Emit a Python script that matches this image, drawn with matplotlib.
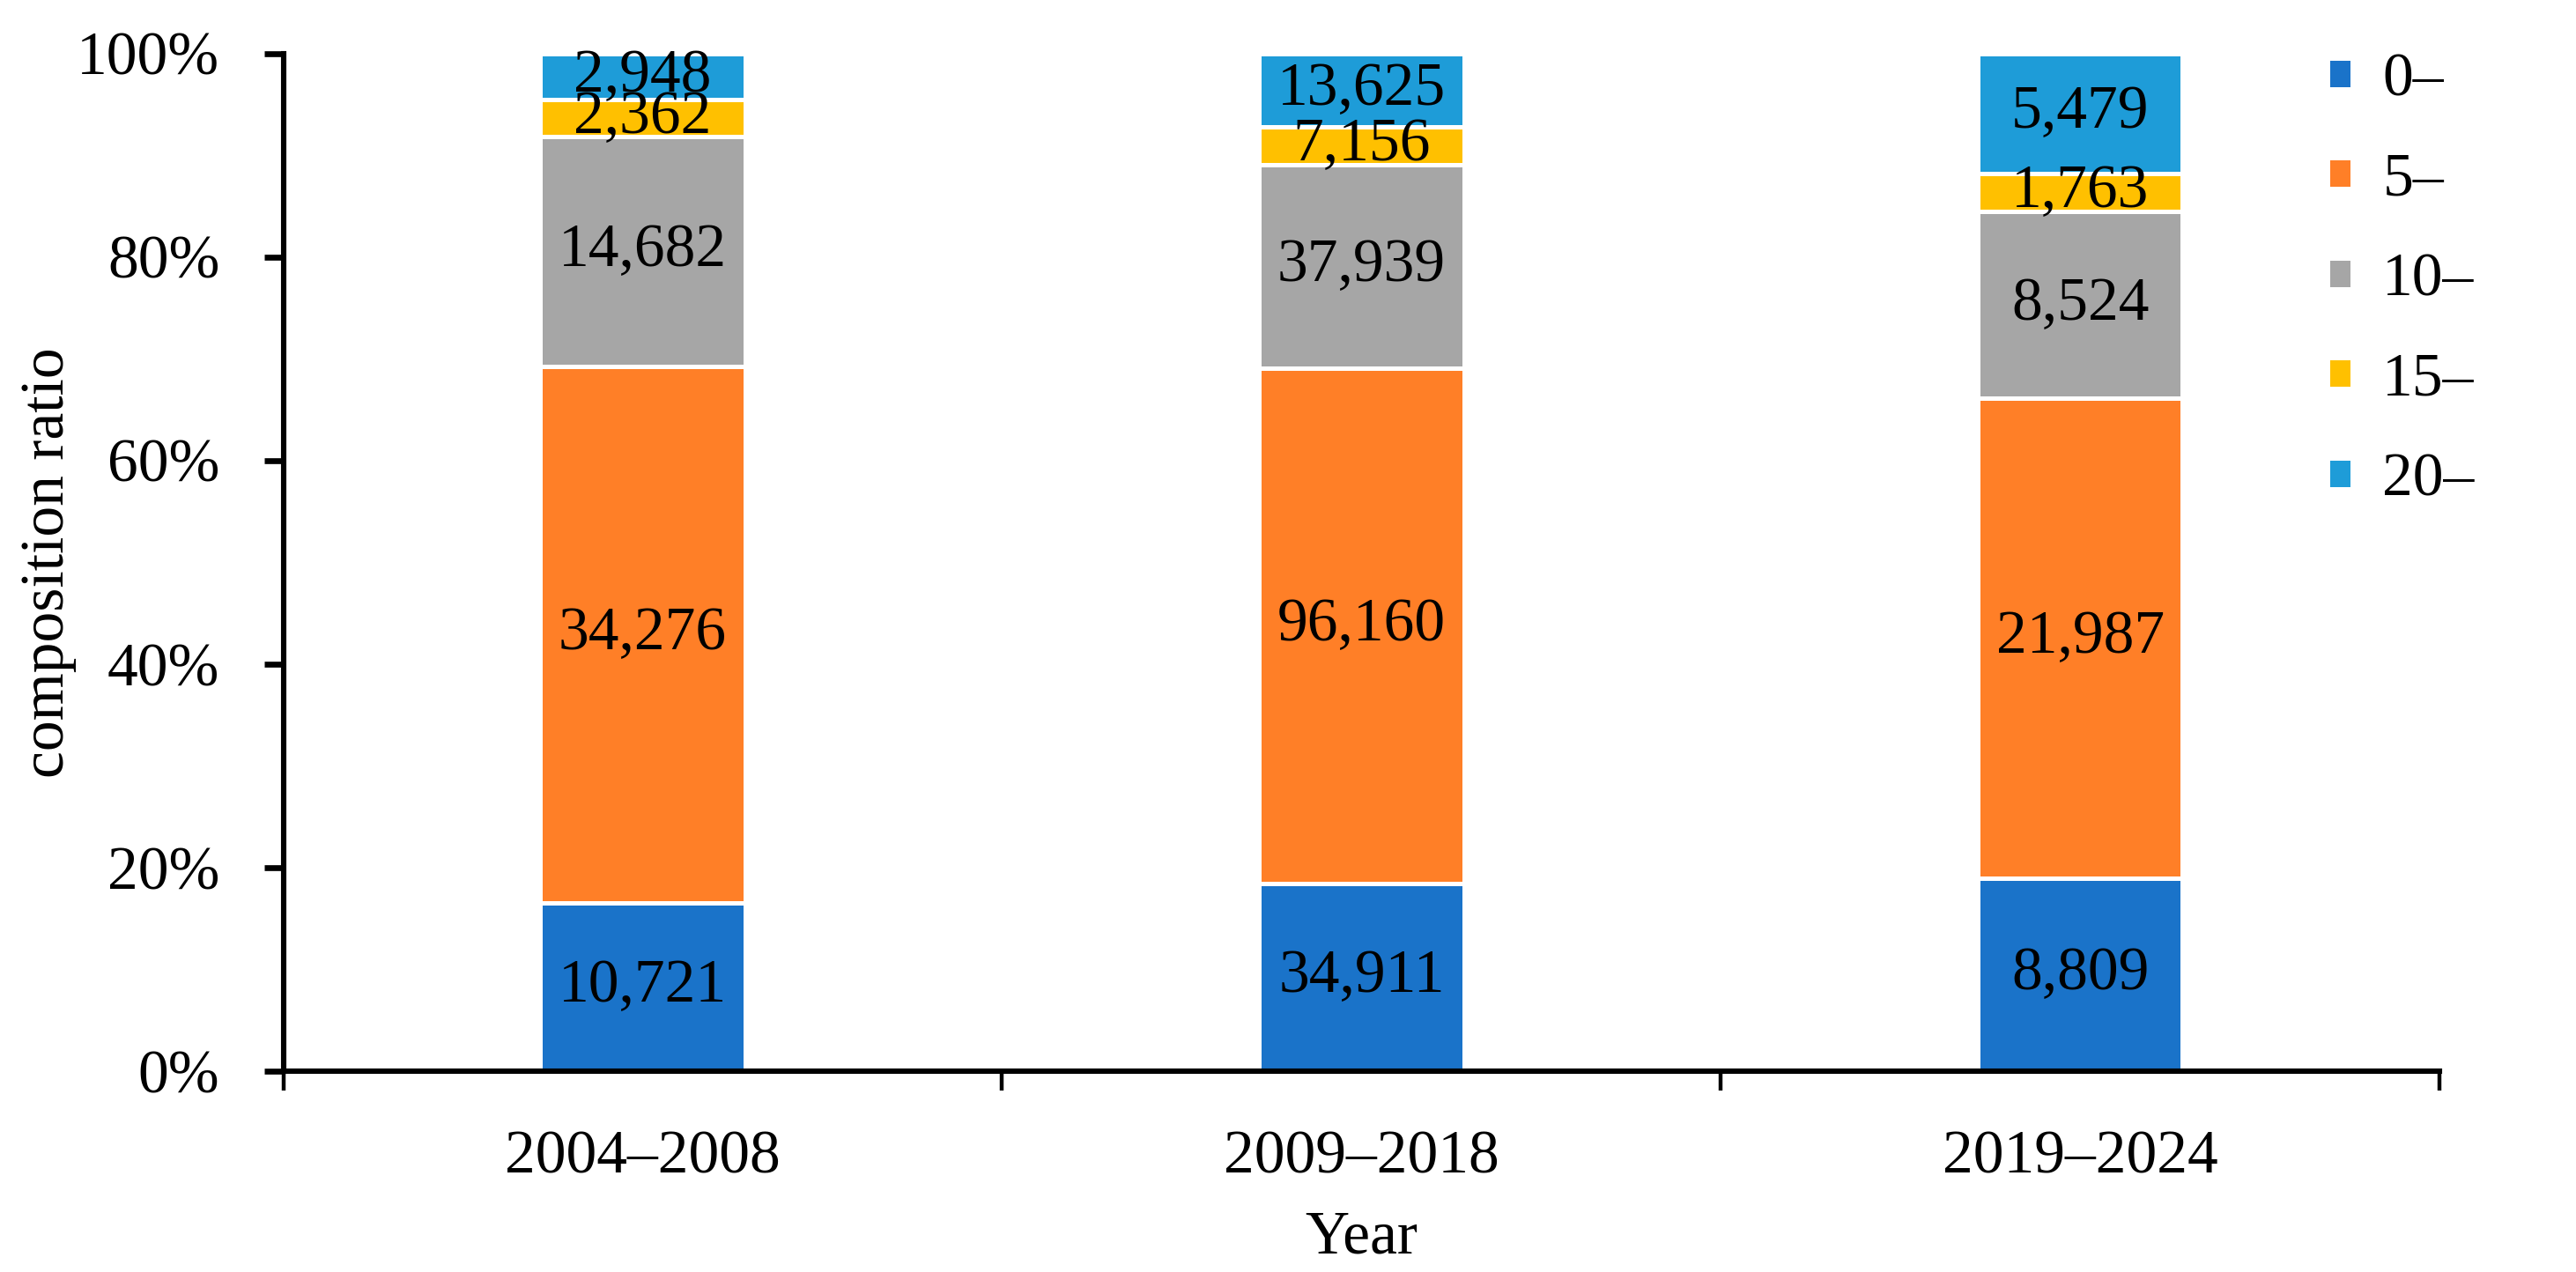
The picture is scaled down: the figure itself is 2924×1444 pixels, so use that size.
import matplotlib
matplotlib.use("Agg")
import matplotlib.pyplot as plt
import numpy as np
from matplotlib.ticker import FixedLocator, PercentFormatter

periods = ["2004–2008", "2009–2018", "2019–2024"]
groups = ["0–", "5–", "10–", "15–", "20–"]
v_0 = [10721, 34911, 8809]
v_5 = [34276, 96160, 21987]
v_10 = [14682, 37939, 8524]
v_15 = [2362, 7156, 1763]
v_20 = [2948, 13625, 5479]
colors = ["#1A73C9", "#FF7F27", "#A6A6A6", "#FFC000", "#1E9CD8"]

series = [v_0, v_5, v_10, v_15, v_20]
counts = np.array(series, dtype=float)
totals = counts.sum(axis=0)
shares = counts / totals * 100

plt.rcParams['font.family'] = ['Liberation Serif', 'DejaVu Serif']
FS = 25

fig = plt.figure(figsize=(14.62, 7.22), dpi=200)
ax = fig.add_axes([0.110, 0.158, 0.837, 0.800])

x = np.arange(len(periods))
bottom = np.zeros(len(periods))
handles = []
for i, (name, col) in enumerate(zip(groups, colors)):
    bars = ax.bar(x, shares[i], width=0.285, bottom=bottom, color=col,
                  edgecolor="white", linewidth=1.8, label=name, zorder=2)
    handles.append(bars)
    for j in range(len(periods)):
        ax.text(x[j], bottom[j] + shares[i][j] / 2, f"{int(counts[i][j]):,}",
                ha="center", va="center", fontsize=FS, color="black", zorder=3)
    bottom += shares[i]

ax.set_xlim(-0.5, 2.5)
ax.set_ylim(0, 100)
ax.set_yticks([0, 20, 40, 60, 80, 100])
ax.yaxis.set_major_formatter(PercentFormatter(decimals=0))
ax.set_xticks(x)
ax.set_xticklabels(periods)
ax.xaxis.set_minor_locator(FixedLocator([-0.5, 0.5, 1.5, 2.5]))

for s in ["top", "right"]:
    ax.spines[s].set_visible(False)
for s in ["left", "bottom"]:
    ax.spines[s].set_linewidth(2.2)
    ax.spines[s].set_zorder(4)

ax.tick_params(axis="y", which="major", length=8, width=2.4, labelsize=FS, pad=18, direction="out")
ax.tick_params(axis="x", which="major", length=0, labelsize=FS, pad=24)
ax.tick_params(axis="x", which="minor", length=8, width=1.6, direction="out")

ax.set_xlabel("Year", fontsize=FS)
ax.xaxis.set_label_coords(0.5, -0.137)
ax.xaxis.label.set_va("top")
ax.set_ylabel("composition ratio", fontsize=FS)
ax.yaxis.set_label_coords(-0.109, 0.5)
ax.yaxis.label.set_va("center")

leg = fig.legend(handles=handles, labels=groups, loc="upper left",
                 bbox_to_anchor=(0.894, 0.978), frameon=False, fontsize=FS,
                 handlelength=0.4, handleheight=0.4, handletextpad=0.5,
                 labelspacing=0.72, borderaxespad=0)

fig.savefig("out.png", dpi=200, facecolor="white")
